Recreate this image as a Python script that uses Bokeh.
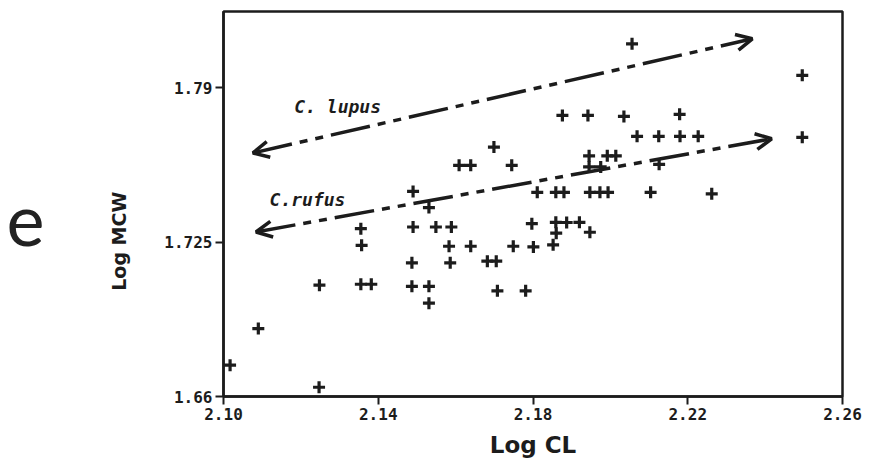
import math
from bokeh.plotting import figure
from bokeh.models import Range1d, FixedTicker, Label, Arrow, OpenHead
from bokeh.layouts import row
from bokeh.core.properties import value
from bokeh.embed import file_html
from bokeh.resources import INLINE

# ---- data ----
log_cl = [2.1017, 2.1090, 2.1248, 2.1247, 2.1355, 2.1357, 2.1355, 2.1382,
          2.1490, 2.1490, 2.1487, 2.1487, 2.1531, 2.1531, 2.1531, 2.1549,
          2.1589, 2.1583, 2.1639, 2.1586, 2.1609, 2.1639, 2.1699, 2.1745,
          2.1682, 2.1705, 2.1708, 2.1781, 2.1749, 2.1801, 2.1797, 2.1811,
          2.1859, 2.1880, 2.1852, 2.1859, 2.1887, 2.1920, 2.1860, 2.1947,
          2.1876, 2.1942, 2.2035, 2.1945, 2.1992, 2.2014, 2.1945, 2.1975,
          2.1947, 2.1973, 2.1994, 2.2056, 2.2069, 2.2125, 2.2180, 2.2227,
          2.2179, 2.2126, 2.2104, 2.2262, 2.2496, 2.2496]
log_mcw = [1.6732, 1.6886, 1.7069, 1.6639, 1.7307, 1.7237, 1.7073, 1.7073,
           1.7464, 1.7314, 1.7163, 1.7064, 1.7396, 1.7064, 1.6993, 1.7314,
           1.7314, 1.7233, 1.7233, 1.7163, 1.7574, 1.7574, 1.7651, 1.7574,
           1.7170, 1.7170, 1.7045, 1.7045, 1.7233, 1.7230, 1.7328, 1.7460,
           1.7460, 1.7460, 1.7239, 1.7334, 1.7333, 1.7334, 1.7288, 1.7292,
           1.7784, 1.7784, 1.7780, 1.7614, 1.7614, 1.7614, 1.7567, 1.7567,
           1.7460, 1.7460, 1.7460, 1.8086, 1.7696, 1.7696, 1.7696, 1.7696,
           1.7789, 1.7578, 1.7460, 1.7454, 1.7953, 1.7692]

x_ticks = [2.10, 2.14, 2.18, 2.22, 2.26]
x_tick_labels = ["2.10", "2.14", "2.18", "2.22", "2.26"]
y_ticks = [1.66, 1.725, 1.79]
y_tick_labels = ["1.66", "1.725", "1.79"]

lupus_x = [2.1076, 2.2367]
lupus_y = [1.7626, 1.8107]
rufus_x = [2.1084, 2.2417]
rufus_y = [1.7293, 1.7686]

species = ["C. lupus", "C.rufus"]
panel_letter = ["e"]
y_title = ["Log MCW"]
x_title = "Log CL"

INK = "#1c1c1c"
LEFT_W = 140

# ---- side figure: panel letter and y-axis title ----
ef = figure(width=LEFT_W, height=466, x_range=Range1d(0, LEFT_W),
            y_range=Range1d(0, 466), output_backend="svg",
            toolbar_location=None, min_border=0,
            background_fill_color="white", border_fill_color="white")
ef.axis.visible = False
ef.grid.visible = False
ef.outline_line_color = None
ef.text(x=[25], y=[214], text=panel_letter, text_align="center",
        text_baseline="alphabetic", text_font=value("Lato"),
        text_font_size="72px", text_color="#222222")
ef.text(x=[118], y=[188], text=y_title, angle=math.pi / 2,
        text_align="center", text_baseline="middle",
        text_font=value("DejaVu Sans"), text_font_style="bold",
        text_font_size="19px", text_color=INK)

# ---- main scatter plot ----
p = figure(width=873 - LEFT_W, height=466,
           x_range=Range1d(2.10, 2.26), y_range=Range1d(1.66, 1.8222),
           output_backend="svg", toolbar_location=None,
           min_border_left=223 - LEFT_W, min_border_right=31,
           min_border_top=11, min_border_bottom=70,
           background_fill_color="white", border_fill_color="white")

p.xgrid.visible = False
p.ygrid.visible = False
p.outline_line_color = INK
p.outline_line_width = 2.5

for ax in (p.xaxis[0], p.yaxis[0]):
    ax.axis_line_color = INK
    ax.axis_line_width = 2.5
    ax.major_tick_line_color = INK
    ax.major_tick_line_width = 2
    ax.major_tick_in = 0
    ax.major_tick_out = 8
    ax.minor_tick_line_color = None
    ax.major_label_text_font = "DejaVu Sans Mono"
    ax.major_label_text_font_style = "bold"
    ax.major_label_text_font_size = "16px"
    ax.major_label_text_color = INK
    ax.major_label_standoff = 3
    ax.axis_label_text_color = INK
    ax.axis_label_text_font_style = "bold"

p.xaxis.ticker = FixedTicker(ticks=x_ticks)
p.xaxis.major_label_overrides = dict(zip(x_ticks, x_tick_labels))
p.yaxis.ticker = FixedTicker(ticks=y_ticks)
p.yaxis.major_label_overrides = dict(zip(y_ticks, y_tick_labels))

p.xaxis.axis_label = x_title
p.xaxis.axis_label_text_font = "DejaVu Sans"
p.xaxis.axis_label_text_font_size = "23px"
p.xaxis.axis_label_standoff = 9

p.scatter(log_cl, log_mcw, marker="cross", size=12, line_width=3.2,
          line_color=INK, fill_color=INK)

dash = "40 8 8 8 8 8"
for xs, ys in ((lupus_x, lupus_y), (rufus_x, rufus_y)):
    p.add_layout(Arrow(x_start=xs[0], y_start=ys[0], x_end=xs[1], y_end=ys[1],
                       line_color=INK, line_width=3.5, line_dash=dash,
                       start=OpenHead(size=16, line_width=3.5, line_color=INK),
                       end=OpenHead(size=16, line_width=3.5, line_color=INK)))

p.add_layout(Label(x=2.1183, y=1.7822, text=species[0], text_align="left",
                   text_baseline="middle", text_font="DejaVu Sans Mono",
                   text_font_style="bold italic", text_font_size="18px",
                   text_color=INK))
p.add_layout(Label(x=2.1119, y=1.7429, text=species[1], text_align="left",
                   text_baseline="middle", text_font="DejaVu Sans Mono",
                   text_font_style="bold italic", text_font_size="18px",
                   text_color=INK))

layout = row(ef, p, spacing=0)
open("out.html", "w").write(file_html(layout, INLINE))
